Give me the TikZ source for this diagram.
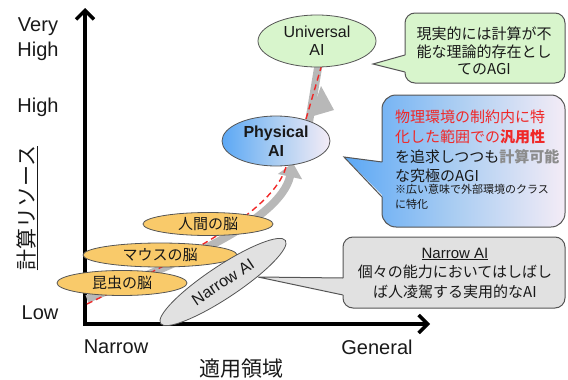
\documentclass[tikz,border=0pt]{standalone}
\usepackage{fontspec}
\setmainfont{Liberation Sans}
\newfontfamily\jp{Noto Sans CJK JP}
\usetikzlibrary{shapes.geometric,arrows.meta}
\definecolor{greenc}{RGB}{216,245,204}
\definecolor{orangec}{RGB}{249,202,106}
\definecolor{grayfill}{RGB}{225,225,225}
\definecolor{bandc}{RGB}{184,184,184}
\definecolor{redc}{RGB}{240,40,40}
\definecolor{borderc}{RGB}{85,85,85}
\definecolor{bluetop}{RGB}{92,168,245}
\definecolor{bluemid}{RGB}{170,205,242}
\definecolor{bluebot}{RGB}{244,236,246}
\definecolor{grayt}{RGB}{140,140,140}
\definecolor{textc}{RGB}{25,25,25}
\begin{document}
\begin{tikzpicture}[x=1pt,y=-1pt,
  axisline/.style={line width=3.5pt, line join=miter, draw=black,
    {Straight Barb[length=9pt,width=18pt]}-{Straight Barb[length=9pt,width=18pt]}},
  lbl/.style={font=\fontsize{20}{25}\selectfont, text=textc, inner sep=0pt},
  jlbl/.style={font=\jp\fontsize{21}{25}\selectfont, text=textc, inner sep=0pt},
  ell/.style={ellipse, draw=borderc, line width=0.8pt, inner sep=0pt, text=textc},
  brain/.style={ell, fill=orangec, font=\jp\fontsize{15}{18}\selectfont},
  band/.style={draw=bandc, line width=8pt},
  reddash/.style={draw=redc, line width=1.4pt, dash pattern=on 6pt off 4pt},
  cborder/.style={draw=borderc, line width=1pt},
  ctext/.style={inner sep=0pt, text=textc},
  blueshade/.style={left color=bluetop, right color=bluebot, middle color=bluemid}
]
\useasboundingbox (0,0) rectangle (568,380);

% axes
\coordinate (ytop) at (85,8);
\coordinate (O) at (85,324);
\coordinate (xend) at (430,324);
\draw[axisline] (ytop) -- (O) -- (xend);

% axis labels
\node[lbl, align=center] (veryhigh) at (38,39) {Very\\High};
\node[lbl] (high) at (38,107) {High};
\node[lbl] (low) at (40,313) {Low};
\node[lbl] (narrowlbl) at (116,347) {Narrow};
\node[lbl] (general) at (377,347) {General};
\node[jlbl] (xlabel) at (241,369) {適用領域};
\node[jlbl, rotate=90] (ylabel) at (27,208) {\underline{計算リソース}};

% grey progress band and red dashed path
\coordinate (bs) at (87,299);
\coordinate (bt) at (293,163);
\draw[band, -{Triangle[length=14pt,width=24pt]}] (bs) .. controls (172,266) and (280,222) .. (bt);
\coordinate (rs) at (87,304);
\coordinate (rt) at (286,167);
\draw[reddash] (rs) .. controls (165,266) and (272,216) .. (rt);
\coordinate (ub) at (309,122);
\coordinate (ut) at (319,62);
\draw[band] (ub) -- (ut);
\fill[bandc] (321,86) -- (334,110) -- (310,117) -- cycle;
\coordinate (urs) at (306,119);
\coordinate (urt) at (322,64);
\draw[reddash] (urs) -- (urt);

% green callout
\coordinate (gtip) at (373,64);
\path[fill=greenc, rounded corners=10pt] (485,13) -- (565,13) -- (565,83) -- (405,83) -- (405,13) -- cycle
  [sharp corners] (gtip) -- (407,55) -- (407,72) -- cycle;
\draw[cborder] (405,55) -- (gtip) -- (405,72);
\draw[cborder, rounded corners=10pt] (405,72) -- (405,83) -- (565,83) -- (565,13) -- (405,13) -- (405,55);
\node[ctext, align=center, font=\jp\fontsize{15}{17.5}\selectfont] (gtext) at (484,51)
  {現実的には計算が不\\能な理論的存在とし\\てのAGI};

% blue callout
\coordinate (btip) at (344,157);
\path[blueshade, rounded corners=14pt]
  (470,95) -- (565,95) -- (565,227) -- (382,227) -- (382,95) -- cycle
  [sharp corners] (btip) -- (384,162) -- (384,197) -- cycle;
\draw[cborder] (382,162) -- (btip) -- (382,197);
\draw[cborder, rounded corners=14pt] (382,197) -- (382,227) -- (565,227) -- (565,95) -- (382,95) -- (382,162);
\node[ctext, align=left, anchor=north west, font=\jp\fontsize{15}{19.7}\selectfont] (btext) at (395,110)
  {\textcolor{redc}{物理環境の制約内に特}\\
   \textcolor{redc}{化した範囲での\textbf{汎用性}}\\
   を追求しつつも\textcolor{grayt}{\textbf{計算可能}}\\
   な究極のAGI};
\node[ctext, align=left, anchor=north west, font=\jp\fontsize{11}{15}\selectfont] (bnote) at (395,184)
  {※広い意味で外部環境のクラス\\に特化};

% grey callout
\coordinate (ntip) at (258,277);
\path[fill=grayfill, rounded corners=10pt] (455,237) -- (565,237) -- (565,308) -- (343,308) -- (343,237) -- cycle
  [sharp corners] (ntip) -- (345,278) -- (345,295) -- cycle;
\draw[cborder] (343,278) -- (ntip) -- (343,295);
\draw[cborder, rounded corners=10pt] (343,295) -- (343,308) -- (565,308) -- (565,237) -- (343,237) -- (343,278);
\node[ctext, align=center, font=\jp\fontsize{15}{19.5}\selectfont] (ntext) at (455,273)
  {{\rmfamily\underline{Narrow AI}}\\個々の能力においてはしばし\\ば人凌駕する実用的なAI};

% ellipses
\node[ell, fill=greenc, minimum width=118pt, minimum height=52pt, align=center,
  font=\fontsize{16}{18}\selectfont] (univ) at (317,41) {Universal\\AI};
\node[ell, blueshade,
  minimum width=108pt, minimum height=50pt, align=center,
  font=\bfseries\fontsize{16}{18.5}\selectfont] (phys) at (276,141) {Physical\\AI};
\node[brain, minimum width=130pt, minimum height=23pt] (human) at (208,224) {人間の脳};
\node[brain, minimum width=154pt, minimum height=24pt] (mouse) at (160,255) {マウスの脳};
\node[brain, minimum width=130pt, minimum height=25pt] (insect) at (122,283) {昆虫の脳};
\node[ell, fill=grayfill, rotate=33.6, minimum width=150pt, minimum height=32pt,
  font=\fontsize{16}{18}\selectfont] (narrow) at (223,282) {Narrow AI};
\end{tikzpicture}
\end{document}
